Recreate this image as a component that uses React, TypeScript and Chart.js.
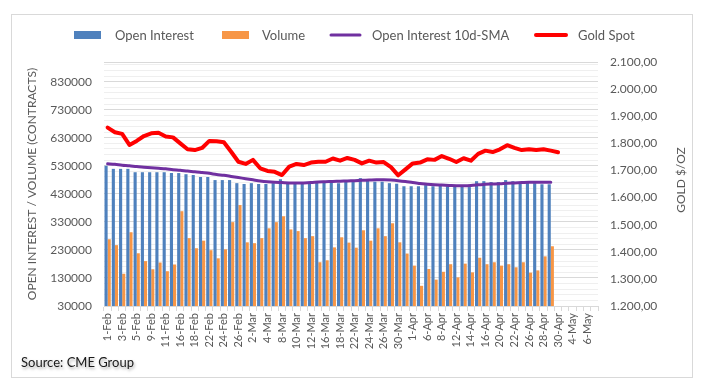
import React, { useEffect, useRef } from 'react';
import { Chart, registerables } from 'chart.js';

Chart.register(...registerables);

// ---------- data ----------
const DATES = [
  '1-Feb','2-Feb','3-Feb','4-Feb','5-Feb','8-Feb','9-Feb','10-Feb','11-Feb','12-Feb',
  '16-Feb','17-Feb','18-Feb','19-Feb','22-Feb','23-Feb','24-Feb','25-Feb','26-Feb',
  '1-Mar','2-Mar','3-Mar','4-Mar','5-Mar','8-Mar','9-Mar','10-Mar','11-Mar','12-Mar',
  '15-Mar','16-Mar','17-Mar','18-Mar','19-Mar','22-Mar','23-Mar','24-Mar','25-Mar','26-Mar',
  '29-Mar','30-Mar','31-Mar',
  '1-Apr','5-Apr','6-Apr','7-Apr','8-Apr','9-Apr','12-Apr','13-Apr','14-Apr','15-Apr','16-Apr',
  '19-Apr','20-Apr','21-Apr','22-Apr','23-Apr','26-Apr','27-Apr','28-Apr','29-Apr','30-Apr',
  '3-May','4-May','5-May','6-May','7-May',
];

const OPEN_INTEREST = [
  530000, 519000, 519000, 519000, 507000, 507000, 507000, 507000, 507000, 504000,
  504000, 500000, 497000, 490000, 490000, 479000, 479000, 479000, 468000, 465000,
  468000, 465000, 465000, 468000, 482000, 470000, 470000, 470000, 470000, 470000,
  472000, 477000, 468000, 475000, 473000, 486000, 482000, 473000, 473000, 468000,
  466000, 457000, 457000, 457000, 461000, 457000, 461000, 457000, 457000, 457000,
  454000, 475000, 475000, 472000, 472000, 479000, 475000, 472000, 472000, 468000,
  464000, 464000,
];

const VOLUME = [
  268000, 247000, 145000, 293000, 218000, 190000, 161000, 185000, 154000, 178000,
  368000, 272000, 236000, 263000, 229000, 200000, 232000, 329000, 390000, 257000,
  254000, 272000, 307000, 329000, 350000, 303000, 297000, 272000, 279000, 186000,
  193000, 239000, 275000, 256000, 238000, 300000, 263000, 307000, 279000, 325000,
  257000, 217000, 174000, 102000, 162000, 124000, 152000, 179000, 132000, 181000,
  150000, 202000, 179000, 186000, 174000, 179000, 168000, 186000, 149000, 157000,
  207000, 243000,
];

const OI_SMA_10D = [
  537000, 535000, 532000, 530000, 527000, 525000, 523000, 521000, 519000, 516000,
  514000, 511000, 509000, 506000, 503000, 499000, 496000, 492000, 488000, 484000,
  480000, 476000, 473000, 471000, 470000, 469000, 469000, 469000, 470000, 472000,
  473000, 474000, 475000, 476000, 477000, 478000, 479000, 480000, 480000, 479000,
  477000, 474000, 470000, 467000, 464000, 462000, 461000, 460000, 459000, 459000,
  460000, 462000, 464000, 465000, 466000, 468000, 469000, 470000, 471000, 471000,
  471000, 471000,
];

const GOLD_SPOT = [
  1858, 1841, 1835, 1794, 1809, 1827, 1837, 1839, 1825, 1822,
  1800, 1778, 1775, 1783, 1809, 1808, 1804, 1769, 1732, 1724,
  1739, 1708, 1698, 1695, 1683, 1714, 1724, 1720, 1729, 1732,
  1732, 1744, 1736, 1746, 1739, 1726, 1736, 1729, 1731, 1712,
  1682, 1704, 1726, 1729, 1741, 1739, 1753, 1743, 1731, 1745,
  1736, 1761, 1773, 1768, 1778, 1793, 1783, 1775, 1778, 1775,
  1778, 1773, 1767,
];

const LEFT_MIN = 30000;
const LEFT_MAX = 900000;
const LEFT_MAJOR_STEP = 100000;
const LEFT_MINOR_STEP = 20000;
const LEFT_LAST_LABEL = 830000;
const RIGHT_MIN = 1200;
const RIGHT_MAX = 2100;
const RIGHT_STEP = 100;

// ---------- style ----------
const BLUE = '#4F81BD';
const ORANGE = '#F79646';
const PURPLE = '#7030A0';
const RED = '#FF0000';
const TEXT = '#595959';
const GRID_MAJOR = '#d9d9d9';
const GRID_MINOR = '#efefef';
const FONT = 'Lato, "Open Sans", "DejaVu Sans", sans-serif';

const W = 713;
const H = 391;

const pad = (arr: (number | null)[]) =>
  DATES.map((_, i) => (i < arr.length ? arr[i] : null));

function fmtGold(v: number): string {
  const s = Math.round(v).toString().replace(/\B(?=(\d{3})+(?!\d))/g, '.');
  return s + ',00';
}

// legend layout (positions only)
const LEGEND_LAYOUT = [
  { x0: 74, x1: 101, tx: 115, kind: 'box' },
  { x0: 222, x1: 249, tx: 262, kind: 'box' },
  { x0: 331, x1: 360, tx: 372, kind: 'line' },
  { x0: 536, x1: 566, tx: 578, kind: 'line' },
];
const LEGEND_Y = 35;

const decorPlugin = {
  id: 'decor',
  beforeDraw(chart: any) {
    const ctx = chart.ctx;
    ctx.save();
    ctx.fillStyle = '#ffffff';
    ctx.fillRect(0, 0, chart.width, chart.height);
    ctx.strokeStyle = '#d9d9d9';
    ctx.lineWidth = 1;
    ctx.strokeRect(11.5, 14.5, 681, 363);
    ctx.restore();
  },
  afterDraw(chart: any) {
    const ctx = chart.ctx;
    const ds = chart.data.datasets;
    // legend order: Open Interest, Volume, SMA, Gold
    const legendOrder = [2, 3, 1, 0];
    ctx.save();
    ctx.font = `13px ${FONT}`;
    ctx.textBaseline = 'middle';
    ctx.textAlign = 'left';
    legendOrder.forEach((di, k) => {
      const d = ds[di];
      const L = LEGEND_LAYOUT[k];
      if (L.kind === 'box') {
        ctx.fillStyle = d.backgroundColor;
        ctx.fillRect(L.x0, LEGEND_Y - 4, L.x1 - L.x0, 8);
      } else {
        ctx.strokeStyle = d.borderColor;
        ctx.lineWidth = d.borderWidth;
        ctx.lineCap = 'round';
        ctx.beginPath();
        ctx.moveTo(L.x0, LEGEND_Y);
        ctx.lineTo(L.x1, LEGEND_Y);
        ctx.stroke();
      }
      ctx.fillStyle = TEXT;
      ctx.fillText(d.label, L.tx, LEGEND_Y + 1);
    });

    // right axis title (reads bottom-to-top)
    const area = chart.chartArea;
    ctx.save();
    ctx.translate(681, (area.top + area.bottom) / 2 - 4);
    ctx.rotate(-Math.PI / 2);
    ctx.font = `12px ${FONT}`;
    ctx.fillStyle = TEXT;
    ctx.textAlign = 'center';
    ctx.textBaseline = 'middle';
    ctx.fillText('GOLD $/OZ', 0, 0);
    ctx.restore();

    // source note
    ctx.font = `13px ${FONT}`;
    ctx.fillStyle = '#1a1a1a';
    ctx.textAlign = 'left';
    ctx.textBaseline = 'middle';
    ctx.shadowColor = 'rgba(0,0,0,0.35)';
    ctx.shadowBlur = 3;
    ctx.shadowOffsetX = 1;
    ctx.shadowOffsetY = 2;
    ctx.fillText('Source: CME Group', 21, 363);
    ctx.restore();
  },
};

export default function App() {
  const ref = useRef<HTMLCanvasElement | null>(null);

  useEffect(() => {
    if (!ref.current) return;
    Chart.defaults.font.family = FONT;
    const chart = new Chart(ref.current, {
      type: 'bar',
      data: {
        labels: DATES,
        datasets: [
          {
            type: 'line',
            label: 'Gold Spot',
            data: pad(GOLD_SPOT),
            yAxisID: 'y1',
            borderColor: RED,
            backgroundColor: RED,
            borderWidth: 4,
            pointRadius: 0,
            tension: 0,
            borderCapStyle: 'round',
            borderJoinStyle: 'round',
            order: 0,
          } as any,
          {
            type: 'line',
            label: 'Open Interest 10d-SMA',
            data: pad(OI_SMA_10D),
            yAxisID: 'y',
            borderColor: PURPLE,
            backgroundColor: PURPLE,
            borderWidth: 3,
            pointRadius: 0,
            tension: 0.3,
            borderCapStyle: 'round',
            borderJoinStyle: 'round',
            order: 1,
          } as any,
          {
            type: 'bar',
            label: 'Open Interest',
            data: pad(OPEN_INTEREST),
            yAxisID: 'y',
            backgroundColor: BLUE,
            categoryPercentage: 0.86,
            barPercentage: 1.0,
            order: 2,
          } as any,
          {
            type: 'bar',
            label: 'Volume',
            data: pad(VOLUME),
            yAxisID: 'y',
            backgroundColor: ORANGE,
            categoryPercentage: 0.86,
            barPercentage: 1.0,
            order: 3,
          } as any,
        ],
      },
      options: {
        responsive: false,
        maintainAspectRatio: false,
        devicePixelRatio: 1,
        animation: false,
        events: [],
        layout: { padding: { top: 62, left: 0, right: 0, bottom: 0 } },
        plugins: {
          legend: { display: false },
          tooltip: { enabled: false },
        },
        scales: {
          x: {
            offset: true,
            grid: {
              offset: true,
              drawOnChartArea: false,
              drawTicks: true,
              tickLength: 5,
              color: GRID_MAJOR,
            },
            border: { display: true, color: GRID_MAJOR },
            ticks: {
              autoSkip: false,
              minRotation: 90,
              maxRotation: 90,
              padding: 2,
              color: TEXT,
              font: { size: 11, family: FONT },
              callback: (_v: any, i: number) => (i % 2 === 0 ? DATES[i] : ''),
            },
            afterFit: (s: any) => {
              s.height = H - 306;
            },
          },
          y: {
            position: 'left',
            min: LEFT_MIN,
            max: LEFT_MAX,
            border: { display: false },
            grid: {
              drawTicks: false,
              color: (c: any) => {
                const v = c.tick ? c.tick.value : 0;
                return (v - LEFT_MIN) % LEFT_MAJOR_STEP === 0 || v === LEFT_MAX
                  ? GRID_MAJOR
                  : GRID_MINOR;
              },
            },
            afterBuildTicks: (s: any) => {
              const vals: number[] = [];
              for (let v = LEFT_MIN; v < LEFT_MAX; v += LEFT_MINOR_STEP) vals.push(v);
              vals.push(LEFT_MAX);
              s.ticks = vals.map((value) => ({ value }));
            },
            ticks: {
              autoSkip: false,
              padding: 12,
              color: TEXT,
              font: { size: 12, family: FONT },
              callback: (v: any) =>
                (v - LEFT_MIN) % LEFT_MAJOR_STEP === 0 && v <= LEFT_LAST_LABEL ? String(v) : '',
            },
            title: {
              display: true,
              text: 'OPEN INTEREST / VOLUME (CONTRACTS)',
              color: TEXT,
              font: { size: 12, family: FONT },
              padding: { top: 25, bottom: 0 },
            },
            afterFit: (s: any) => {
              s.width = 104;
            },
          },
          y1: {
            position: 'right',
            min: RIGHT_MIN,
            max: RIGHT_MAX,
            border: { display: false },
            grid: { drawOnChartArea: false, drawTicks: false },
            ticks: {
              stepSize: RIGHT_STEP,
              padding: 12,
              color: TEXT,
              font: { size: 12, family: FONT },
              callback: (v: any) => fmtGold(Number(v)),
            },
            afterFit: (s: any) => {
              s.width = W - 598;
            },
          },
        },
      },
      plugins: [decorPlugin],
    } as any);
    return () => chart.destroy();
  }, []);

  return (
    <div style={{ position: 'fixed', left: 0, top: 0, width: W, height: H, background: '#fff' }}>
      <canvas ref={ref} width={W} height={H} style={{ display: 'block', width: W, height: H }} />
    </div>
  );
}
